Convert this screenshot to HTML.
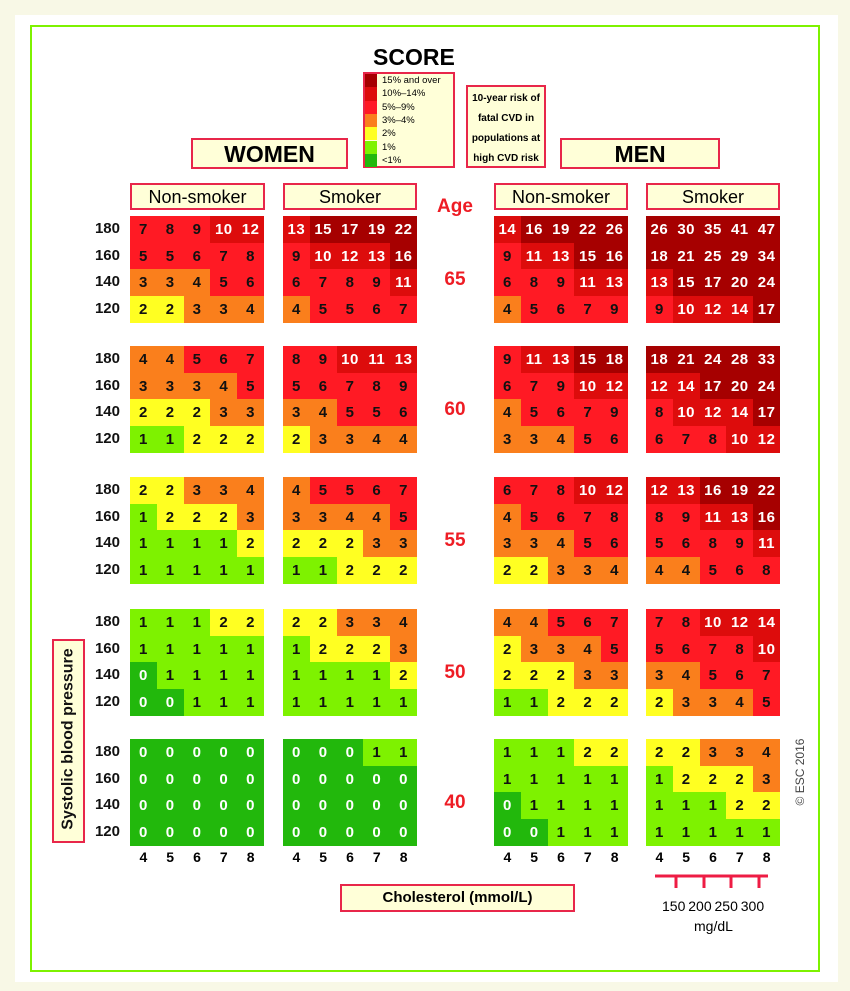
<!DOCTYPE html>
<html><head><meta charset="utf-8"><style>
body{margin:0;width:850px;height:991px;background:#f8f8e6;position:relative;overflow:hidden;font-family:"Liberation Sans",sans-serif}
.inner{position:absolute;left:15px;top:15px;width:823px;height:967px;background:#fff}
.frame{position:absolute;left:30px;top:25px;width:786px;height:943px;border:2px solid #7ef200}
.a{position:absolute}
.c{position:absolute;width:26.8px;height:26.5px;text-align:center;line-height:27px;font-size:15px;font-weight:bold;letter-spacing:0.5px}
.box{position:absolute;background:#ffffd8;border:2px solid #e8264a;box-sizing:border-box;text-align:center}
.sbp{position:absolute;width:40px;text-align:right;font-size:15px;font-weight:bold;color:#111}
.age{position:absolute;width:60px;text-align:center;color:#ee1c24;font-weight:bold;font-size:19px}
.ch{position:absolute;width:26.8px;text-align:center;font-size:14px;font-weight:bold}
</style></head><body>
<div class="inner"></div><div class="frame"></div>
<div class="a" style="left:373px;top:44px;font-size:23px;font-weight:bold;letter-spacing:0px">SCORE</div>
<div class="box" style="left:363px;top:72px;width:92px;height:96px"></div>
<div id="leg"></div>
<div class="box" style="left:466px;top:85px;width:80px;height:83px;font-size:10px;font-weight:bold;line-height:20px;padding-top:2px">10-year risk of<br>fatal CVD in<br>populations at<br>high CVD risk</div>
<div class="box" style="left:191px;top:138px;width:157px;height:31px;font-size:23px;font-weight:bold;line-height:28px">WOMEN</div>
<div class="box" style="left:560px;top:138px;width:160px;height:31px;font-size:23px;font-weight:bold;line-height:28px">MEN</div>
<div class="box" style="left:130px;top:183px;width:135px;height:27px;font-size:18px;line-height:24px">Non-smoker</div>
<div class="box" style="left:283px;top:183px;width:134px;height:27px;font-size:18px;line-height:24px">Smoker</div>
<div class="box" style="left:494px;top:183px;width:134px;height:27px;font-size:18px;line-height:24px">Non-smoker</div>
<div class="box" style="left:646px;top:183px;width:134px;height:27px;font-size:18px;line-height:24px">Smoker</div>
<div class="age" style="left:425px;top:196px">Age</div>
<div class="box" style="left:52px;top:639px;width:33px;height:204px"></div>
<div class="a" style="left:-34px;top:730px;width:205px;text-align:center;transform:rotate(-90deg);font-size:16px;font-weight:bold;color:#111">Systolic blood pressure</div>
<div class="box" style="left:340px;top:884px;width:235px;height:28px;font-size:15px;font-weight:bold;line-height:24px">Cholesterol (mmol/L)</div>
<div class="a" style="left:755px;top:765px;width:90px;text-align:center;transform:rotate(-90deg);font-size:12px;color:#444">© ESC 2016</div>
<svg class="a" style="left:0;top:0" width="850" height="991"><g stroke="#ee1c44" stroke-width="3"><line x1="655" y1="876" x2="768" y2="876"/><line x1="676" y1="876" x2="676" y2="888"/><line x1="704" y1="876" x2="704" y2="888"/><line x1="731" y1="876" x2="731" y2="888"/><line x1="759" y1="876" x2="759" y2="888"/></g></svg>
<div class="a" style="left:662px;top:898px;font-size:14px;word-spacing:-1px">150 200 250 300</div>
<div class="a" style="left:694px;top:918px;font-size:14px">mg/dL</div>
<div id="g"></div>
<script>
function col(v){if(v==0)return'#22b80c';if(v==1)return'#7ef200';if(v==2)return'#ffff22';if(v<=4)return'#fa7f1c';if(v<=9)return'#ff1a24';if(v<=14)return'#dd0c0c';return'#a60000';}
var L=[['#a60000','15% and over'],['#dd0c0c','10%–14%'],['#ff1a24','5%–9%'],['#fa7f1c','3%–4%'],['#ffff22','2%'],['#7ef200','1%'],['#22b80c','<1%']];
var h='';L.forEach(function(l,i){var y=74+i*13.3;h+='<div class="a" style="left:365px;top:'+y+'px;width:12px;height:13.3px;background:'+l[0]+'"></div><div class="a" style="left:382px;top:'+(y+1)+'px;font-size:9.5px">'+l[1]+'</div>';});
document.getElementById('leg').innerHTML=h;
var D=[
[[7,8,9,10,12,5,5,6,7,8,3,3,4,5,6,2,2,3,3,4],[4,4,5,6,7,3,3,3,4,5,2,2,2,3,3,1,1,2,2,2],[2,2,3,3,4,1,2,2,2,3,1,1,1,1,2,1,1,1,1,1],[1,1,1,2,2,1,1,1,1,1,0,1,1,1,1,0,0,1,1,1],[0,0,0,0,0,0,0,0,0,0,0,0,0,0,0,0,0,0,0,0]],
[[13,15,17,19,22,9,10,12,13,16,6,7,8,9,11,4,5,5,6,7],[8,9,10,11,13,5,6,7,8,9,3,4,5,5,6,2,3,3,4,4],[4,5,5,6,7,3,3,4,4,5,2,2,2,3,3,1,1,2,2,2],[2,2,3,3,4,1,2,2,2,3,1,1,1,1,2,1,1,1,1,1],[0,0,0,1,1,0,0,0,0,0,0,0,0,0,0,0,0,0,0,0]],
[[14,16,19,22,26,9,11,13,15,16,6,8,9,11,13,4,5,6,7,9],[9,11,13,15,18,6,7,9,10,12,4,5,6,7,9,3,3,4,5,6],[6,7,8,10,12,4,5,6,7,8,3,3,4,5,6,2,2,3,3,4],[4,4,5,6,7,2,3,3,4,5,2,2,2,3,3,1,1,2,2,2],[1,1,1,2,2,1,1,1,1,1,0,1,1,1,1,0,0,1,1,1]],
[[26,30,35,41,47,18,21,25,29,34,13,15,17,20,24,9,10,12,14,17],[18,21,24,28,33,12,14,17,20,24,8,10,12,14,17,6,7,8,10,12],[12,13,16,19,22,8,9,11,13,16,5,6,8,9,11,4,4,5,6,8],[7,8,10,12,14,5,6,7,8,10,3,4,5,6,7,2,3,3,4,5],[2,2,3,3,4,1,2,2,2,3,1,1,1,2,2,1,1,1,1,1]]];
var X=[130,283,494,646],Y=[216,346,477,609,739],A=[65,60,55,50,40],S=[180,160,140,120];
h='';
for(var g=0;g<4;g++)for(var b=0;b<5;b++)for(var i=0;i<20;i++){var v=D[g][b][i],r=Math.floor(i/5),c=i%5;
h+='<div class="c" style="left:'+(X[g]+c*26.8)+'px;top:'+(Y[b]+r*26.7)+'px;background:'+col(v)+';color:'+((v==0||v>=10)?'#fff':'#111')+'">'+v+'</div>';}
for(var b=0;b<5;b++){for(var r=0;r<4;r++)h+='<div class="sbp" style="left:80px;top:'+(Y[b]+r*26.7+4)+'px">'+S[r]+'</div>';
h+='<div class="age" style="left:425px;top:'+(Y[b]+53)+'px">'+A[b]+'</div>';}
for(var g=0;g<4;g++)for(var c=0;c<5;c++)h+='<div class="ch" style="left:'+(X[g]+c*26.8)+'px;top:849px">'+(c+4)+'</div>';
document.getElementById('g').innerHTML=h;
</script>
</body></html>
